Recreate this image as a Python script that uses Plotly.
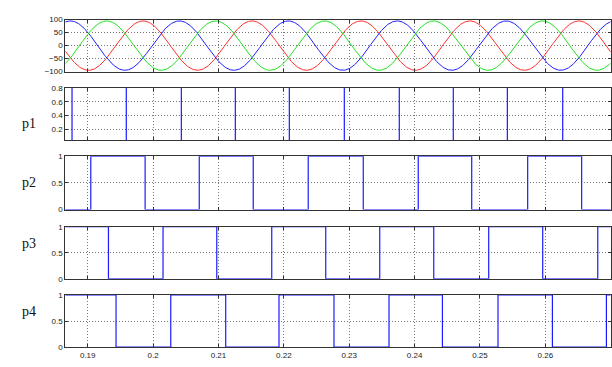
import plotly.graph_objects as go
import numpy as np

# ---- data ----
x_ticks = [0.19, 0.2, 0.21, 0.22, 0.23, 0.24, 0.25, 0.26, 0.27]
x_tick_labels = ["0.19", "0.2", "0.21", "0.22", "0.23", "0.24", "0.25", "0.26", "0.27"]
x_range = [0.18657, 0.27]

# three-phase reference (amplitude, frequency Hz, time of red peak)
sine_amp = 95.0
sine_freq = 60.0
red_peak_t = 0.19846
phase_names = ["red", "blue", "green"]
phase_shift_deg = [0, -120, 120]

# pulse transition times (s) and initial levels
p1_edges = [0.18760, 0.19590, 0.20432, 0.21258, 0.22084, 0.22925, 0.23766, 0.24592, 0.25419, 0.26266]
p1_start = 0
p2_edges = [0.19047, 0.19878, 0.20706, 0.21532, 0.22373, 0.23215, 0.24056, 0.24874, 0.25730, 0.26556]
p2_start = 0
p3_edges = [0.19317, 0.20152, 0.20974, 0.21815, 0.22641, 0.23467, 0.24293, 0.25134, 0.25960, 0.26802]
p3_start = 1
p4_edges = [0.19433, 0.20270, 0.21111, 0.21926, 0.22767, 0.23609, 0.24426, 0.25276, 0.26108, 0.26934]
p4_start = 1

top_yticks = [-100, -50, 0, 50, 100]
p1_yticks = [0.2, 0.4, 0.6, 0.8]
p_yticks = [0, 0.5, 1]

# ---- layout geometry (paper fractions) ----
H = 367.0
def dom(top_px, bot_px):
    return [1 - bot_px / H, 1 - top_px / H]

domains = [dom(16, 69.3), dom(86, 139.3), dom(156, 210.7), dom(228.3, 281.7), dom(298.3, 351.7)]
xdom = [65.3 / 612, 610.7 / 612]

fig = go.Figure()

# sine waves
t = np.linspace(x_range[0], x_range[1], 1500)
colors = {"red": "#ff3030", "blue": "#2020ff", "green": "#20e020"}
for name, sh in zip(phase_names, phase_shift_deg):
    y = sine_amp * np.cos(2 * np.pi * sine_freq * (t - red_peak_t) + np.deg2rad(sh))
    fig.add_trace(go.Scatter(x=t, y=y, mode="lines", line=dict(color=colors[name], width=1),
                             xaxis="x", yaxis="y", showlegend=False, hoverinfo="skip"))

def step(edges, start):
    xs = [x_range[0]]
    ys = [start]
    lvl = start
    for e in edges:
        xs.append(e); ys.append(lvl)
        lvl = 1 - lvl
        xs.append(e); ys.append(lvl)
    xs.append(x_range[1]); ys.append(lvl)
    return xs, ys

pulses = [(p1_edges, p1_start), (p2_edges, p2_start), (p3_edges, p3_start), (p4_edges, p4_start)]
for i, (edges, st) in enumerate(pulses):
    xs, ys = step(edges, st)
    fig.add_trace(go.Scatter(x=xs, y=ys, mode="lines", line=dict(color="#1a1aff", width=1.2),
                             xaxis="x%d" % (i + 2), yaxis="y%d" % (i + 2), showlegend=False,
                             hoverinfo="skip", cliponaxis=True))

tickfont = dict(family="Liberation Sans, Arial, sans-serif", size=8, color="#222")
axis_common = dict(showline=True, linecolor="#333", linewidth=1, mirror="ticks",
                   ticks="inside", ticklen=3, tickcolor="#333",
                   showgrid=True, gridcolor="#777", griddash="1px,2px", gridwidth=1,
                   zeroline=False, tickfont=tickfont)

layout = dict(width=612, height=367, margin=dict(l=0, r=0, t=0, b=0),
              paper_bgcolor="white", plot_bgcolor="white", showlegend=False)

yranges = [[-100, 100], [0.05, 0.8], [0, 1], [0, 1], [0, 1]]
yticks = [top_yticks, p1_yticks, p_yticks, p_yticks, p_yticks]
for i in range(5):
    xa = "xaxis" if i == 0 else "xaxis%d" % (i + 1)
    ya = "yaxis" if i == 0 else "yaxis%d" % (i + 1)
    layout[xa] = dict(axis_common, domain=xdom, range=x_range, tickvals=x_ticks,
                      ticktext=x_tick_labels, showticklabels=(i == 4),
                      anchor="y" if i == 0 else "y%d" % (i + 1))
    layout[ya] = dict(axis_common, domain=domains[i], range=yranges[i], tickvals=yticks[i],
                      anchor="x" if i == 0 else "x%d" % (i + 1))

fig.update_layout(**layout)

labels = ["p1", "p2", "p3", "p4"]
for i, lab in enumerate(labels):
    d = domains[i + 1]
    fig.add_annotation(text=lab, x=20 / 612, y=(d[0] + d[1]) / 2, xref="paper", yref="paper",
                       showarrow=False, font=dict(family="Liberation Serif, serif", size=14, color="#111"))

fig.write_html("out.html")
